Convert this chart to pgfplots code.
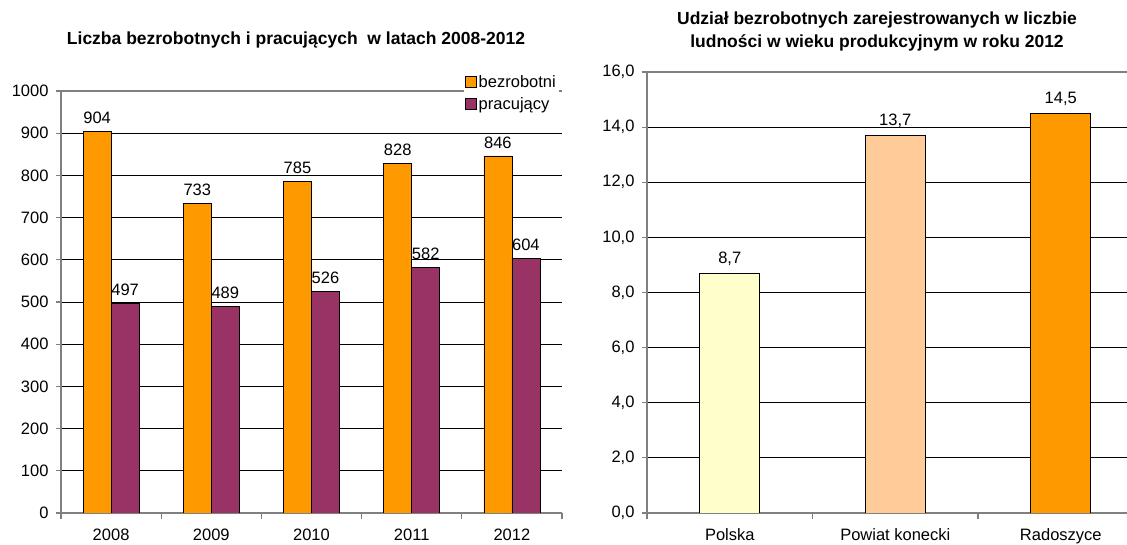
\documentclass[border=0pt]{standalone}
\usepackage{pgfplots}
\pgfplotsset{compat=1.18}
\usepackage{fontspec}
\setmainfont{Liberation Sans}
\definecolor{bzr}{HTML}{FF9900}
\definecolor{prac}{HTML}{993366}
\definecolor{pol}{HTML}{FFFFCC}
\definecolor{pow}{HTML}{FFCC99}
\definecolor{axg}{HTML}{808080}
\pgfplotsset{common/.style={
  scale only axis,
  axis x line*=bottom, axis y line*=left,
  axis line style={draw=axg, line width=1.5pt},
  ymin=0,
  ymajorgrids, grid style={black, line width=0.9pt},
  tick align=outside,
  major tick length=5pt, minor tick length=6pt,
  tick style={draw=axg, line width=1.2pt},
  major x tick style={draw=none},
  x tick label style={font=\fontsize{16.5}{19}\selectfont, yshift=-7pt},
  y tick label style={font=\fontsize{16.5}{19}\selectfont, xshift=-4pt},
  extra y tick labels={},
  extra y tick style={grid style={axg, line width=1.5pt}},
  /pgf/number format/assume math mode=true,
  nodes near coords,
  every node near coord/.append style={font=\fontsize{16.5}{19}\selectfont, black, yshift=4pt},
}}
\begin{document}
\begin{tikzpicture}
\begin{axis}[common, at={(61pt,32pt)}, anchor=south west, width=501pt, height=422pt,
  ybar=0pt, bar width=28pt, xmin=-0.5, xmax=4.5, ymax=1000, ytick={0,100,...,1000},
  extra y ticks={1000},
  xtick={0,1,2,3,4}, xticklabels={2008,2009,2010,2011,2012},
  minor xtick={-0.5,0.5,1.5,2.5,3.5,4.5},
  /pgf/number format/1000 sep={},
  legend style={at={(0.994,1.045)}, anchor=north east, draw=none, fill=white,
    font=\fontsize{16.5}{19}\selectfont, row sep=5pt, inner sep=1pt},
  legend cell align=left,
  legend image code/.code={\draw[#1,draw=black,line width=0.8pt] (0pt,-5.5pt) rectangle (11pt,5.5pt);}]
\addplot[fill=bzr, draw=black, line width=0.8pt] coordinates {(0,904)(1,733)(2,785)(3,828)(4,846)};
\addplot[fill=prac, draw=black, line width=0.8pt] coordinates {(0,497)(1,489)(2,526)(3,582)(4,604)};
\legend{bezrobotni,pracujący}
\end{axis}
\begin{axis}[common, at={(647pt,32pt)}, anchor=south west, width=480pt, height=441pt,
  ybar, bar width=60pt, bar shift=0pt,
  xmin=-0.5, xmax=2.4, ymax=16, ytick={0,2,...,16},
  extra y ticks={16},
  xtick={0,1,2}, xticklabels={Polska,Powiat konecki,Radoszyce},
  minor xtick={-0.5,0.5,1.5},
  /pgf/number format/fixed, /pgf/number format/fixed zerofill,
  /pgf/number format/precision=1, /pgf/number format/use comma]
\addplot[fill=pol, draw=black, line width=0.8pt] coordinates {(0,8.7)};
\addplot[fill=pow, draw=black, line width=0.8pt] coordinates {(1,13.7)};
\addplot[fill=bzr, draw=black, line width=0.8pt] coordinates {(2,14.5)};
\end{axis}
\node[font=\bfseries\fontsize{17.5}{21}\selectfont] at (296pt,505pt) {Liczba bezrobotnych i pracujących\ \ w latach 2008-2012};
\node[font=\bfseries\fontsize{17.5}{23}\selectfont, align=center] at (877pt,513.5pt) {Udział bezrobotnych zarejestrowanych w liczbie\\ludności w wieku produkcyjnym w roku 2012};
\pgfresetboundingbox
\useasboundingbox (0,0) rectangle (1127pt,545pt);
\end{tikzpicture}
\end{document}
